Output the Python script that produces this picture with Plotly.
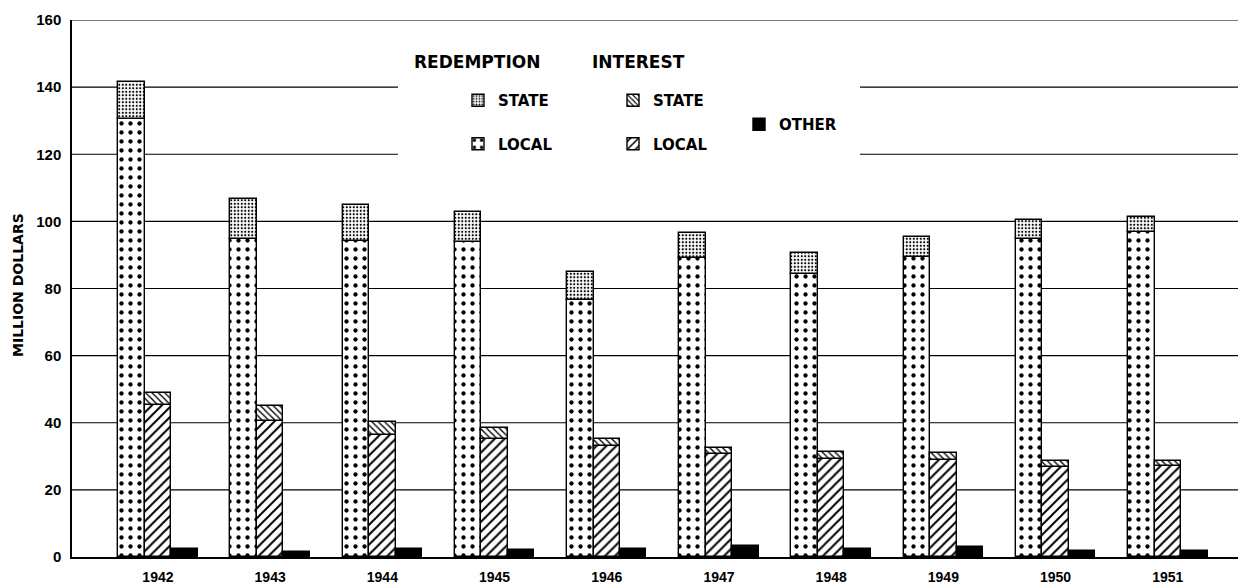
import plotly.graph_objects as go

years = [1942, 1943, 1944, 1945, 1946, 1947, 1948, 1949, 1950, 1951]
redemption_local = [130.5, 94.8, 94.1, 94.0, 76.7, 89.2, 84.4, 89.3, 94.8, 96.7]
redemption_total = [141.5, 106.6, 104.9, 102.8, 84.9, 96.6, 90.7, 95.3, 100.3, 101.2]
interest_local = [45.3, 40.5, 36.5, 35.2, 33.1, 30.6, 29.2, 28.9, 26.8, 27.0]
interest_total = [49.0, 45.0, 40.3, 38.5, 35.1, 32.6, 31.2, 31.0, 28.6, 28.5]
other = [2.5, 1.4, 2.5, 2.0, 2.3, 3.2, 2.3, 3.0, 1.9, 1.7]
y_ticks = [0, 20, 40, 60, 80, 100, 120, 140, 160]

redemption_state = [t - l for t, l in zip(redemption_total, redemption_local)]
interest_state = [t - l for t, l in zip(interest_total, interest_local)]

# the page body has an 8px margin; positions below are given in page pixels
OFF = 8
W, H = 1246 - OFF, 588 - OFF
ML, MR, MT, MB = 72 - OFF, 0, 20 - OFF, 588 - 557
PW, PH = W - ML - MR, H - MT - MB
FONT = "DejaVu Sans"
NUMFONT = "Liberation Sans"

def px_x(p):
    return (p - OFF - ML) / PW

def px_y(p):
    return (H - MB - (p - OFF)) / PH

bw = 0.236
line = dict(color="black", width=1.4)

def pat(shape, size, sol):
    return dict(shape=shape, size=size, solidity=sol, fgcolor="black",
                bgcolor="white", fillmode="replace")

fig = go.Figure()
fig.add_bar(x=years, y=redemption_local, width=bw, offset=-1.5 * bw,
            marker=dict(color="white", line=line, pattern=pat(".", 9, 0.18)),
            name="LOCAL", legend="legend", legendgroup="rl", legendrank=2)
fig.add_bar(x=years, y=redemption_state, base=redemption_local, width=bw, offset=-1.5 * bw,
            marker=dict(color="white", line=line, pattern=pat(".", 3.5, 0.3)),
            name="STATE", legend="legend", legendgroup="rs", legendrank=1)
fig.add_bar(x=years, y=interest_local, width=bw, offset=-0.5 * bw,
            marker=dict(color="white", line=line, pattern=pat("/", 7, 0.28)),
            name="LOCAL", legend="legend2", legendgroup="il", legendrank=2)
fig.add_bar(x=years, y=interest_state, base=interest_local, width=bw, offset=-0.5 * bw,
            marker=dict(color="white", line=line, pattern=pat("\\", 4.5, 0.3)),
            name="STATE", legend="legend2", legendgroup="is", legendrank=1)
fig.add_bar(x=years, y=other, width=bw, offset=0.5 * bw,
            marker=dict(color="black", line=line),
            name="OTHER", legend="legend3", legendgroup="o")

# gridlines as shapes (120 and 140 are broken around the key)
shapes = []
for v in y_ticks[1:]:
    if v in (120, 140):
        segs = [(0, px_x(398)), (px_x(860), 1)]
    else:
        segs = [(0, 1)]
    for a, b in segs:
        shapes.append(dict(type="line", xref="paper", yref="y", x0=a, x1=b, y0=v, y1=v,
                           line=dict(color="black", width=1.2), layer="below"))

leg_common = dict(font=dict(family=FONT, size=15, color="black", weight=700),
                  bgcolor="rgba(0,0,0,0)", yanchor="top", xanchor="left",
                  tracegroupgap=21, traceorder="grouped")

fig.update_layout(
    width=W, height=H,
    margin=dict(l=ML, r=MR, t=MT, b=MB),
    paper_bgcolor="white", plot_bgcolor="white",
    barmode="overlay",
    bargap=0,
    shapes=shapes,
    xaxis=dict(range=[1941.234, 1951.697], tickmode="array", tickvals=years,
               ticktext=[str(y) for y in years], showgrid=False, zeroline=False,
               showline=True, linecolor="black", linewidth=2, ticks="",
               ticklabelstandoff=6,
               tickfont=dict(family=NUMFONT, size=14, color="black", weight=700)),
    yaxis=dict(range=[0, 160], tickmode="array", tickvals=y_ticks, showgrid=False,
               zeroline=False, showline=True, linecolor="black", linewidth=1.5,
               ticks="", ticklabelstandoff=6,
               tickfont=dict(family=NUMFONT, size=15, color="black", weight=700)),
    legend=dict(x=px_x(458), y=px_y(84), **leg_common),
    legend2=dict(x=px_x(613), y=px_y(84), **leg_common),
    legend3=dict(x=px_x(739), y=px_y(108), **leg_common),
    annotations=[
        dict(text="REDEMPTION", xref="paper", yref="paper", x=px_x(412), y=px_y(62),
             xanchor="left", yanchor="middle", showarrow=False,
             font=dict(family=FONT, size=17, color="black", weight=700)),
        dict(text="INTEREST", xref="paper", yref="paper", x=px_x(590), y=px_y(62),
             xanchor="left", yanchor="middle", showarrow=False,
             font=dict(family=FONT, size=17, color="black", weight=700)),
        dict(text="MILLION DOLLARS", xref="paper", yref="paper", x=px_x(18), y=px_y(285),
             xanchor="center", yanchor="middle", textangle=-90, showarrow=False,
             font=dict(family=FONT, size=14, color="black", weight=700)),
    ],
)

fig.write_html("out.html")
